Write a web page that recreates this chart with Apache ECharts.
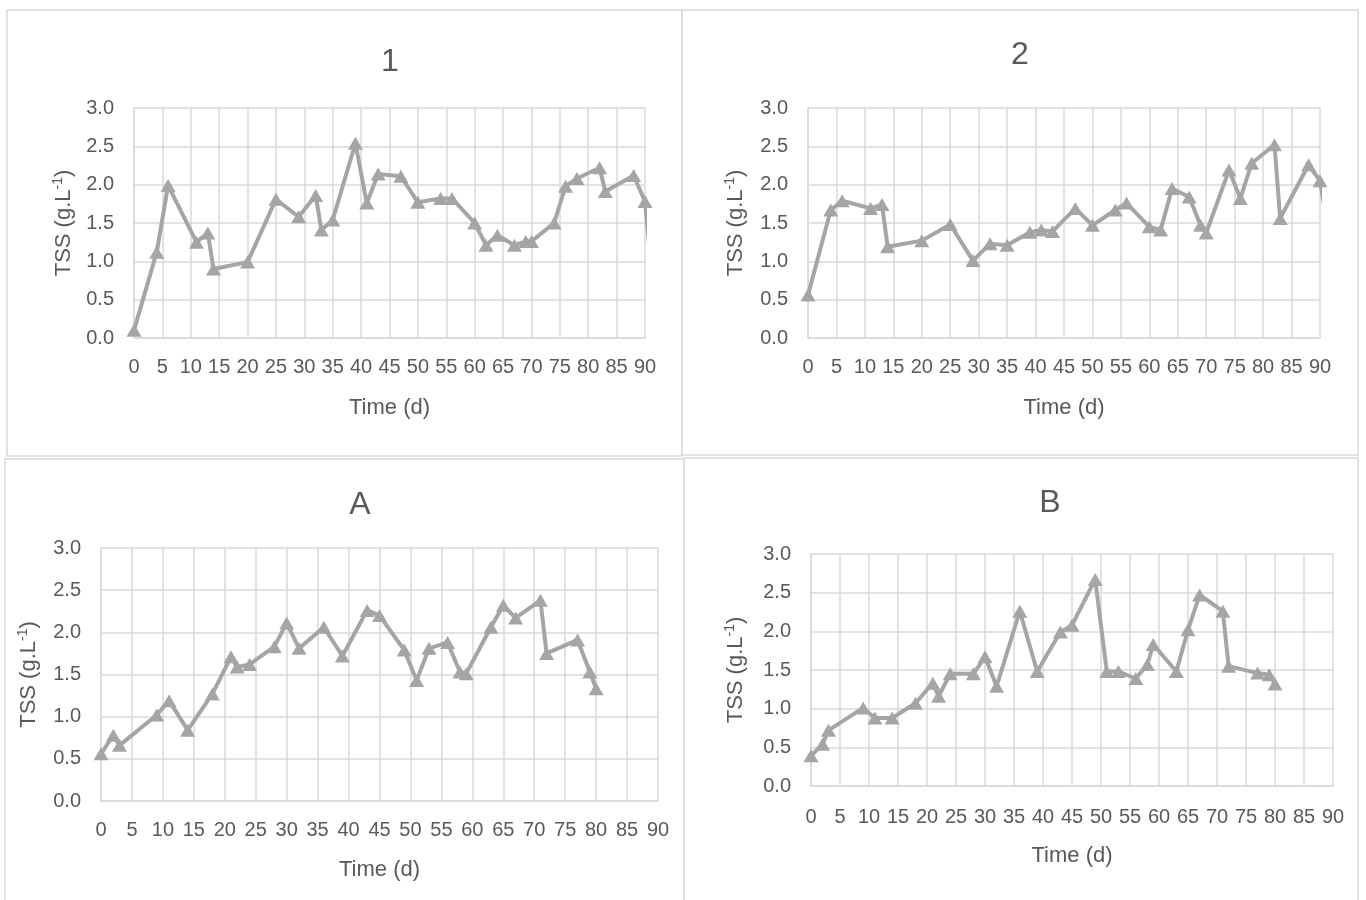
<!DOCTYPE html>
<html>
<head>
<meta charset="utf-8">
<script src="https://cdn.jsdelivr.net/npm/echarts@6/dist/echarts.min.js"></script>
<style>
  html, body { margin: 0; padding: 0; background: #ffffff; }
  #chart { width: 1366px; height: 900px; }
</style>
</head>
<body>
<div id="chart"></div>
<script>
// TSS over time for the four reactors (days, g/L)
const days1 = [0, 4, 6, 11, 13, 14, 20, 25, 29, 32, 33, 35, 39, 41, 43, 47, 50, 54, 56, 60, 62, 64, 67, 69, 70, 74, 76, 78, 82, 83, 88, 90, 91];
const tss1  = [0.10, 1.12, 1.99, 1.25, 1.37, 0.90, 0.99, 1.81, 1.58, 1.86, 1.41, 1.54, 2.54, 1.76, 2.14, 2.11, 1.77, 1.82, 1.82, 1.50, 1.21, 1.34, 1.21, 1.26, 1.26, 1.50, 1.98, 2.08, 2.22, 1.91, 2.12, 1.78, 1.00];

const days2 = [0, 4, 6, 11, 13, 14, 20, 25, 29, 32, 35, 39, 41, 43, 47, 50, 54, 56, 60, 62, 64, 67, 69, 70, 74, 76, 78, 82, 83, 88, 90, 91];
const tss2  = [0.56, 1.67, 1.79, 1.69, 1.74, 1.19, 1.27, 1.48, 1.01, 1.23, 1.21, 1.38, 1.41, 1.39, 1.69, 1.47, 1.67, 1.76, 1.45, 1.41, 1.95, 1.84, 1.47, 1.37, 2.19, 1.82, 2.28, 2.52, 1.56, 2.26, 2.05, 1.60];

const daysA = [0, 2, 3, 9, 11, 14, 18, 21, 22, 24, 28, 30, 32, 36, 39, 43, 45, 49, 51, 53, 56, 58, 59, 63, 65, 67, 71, 72, 77, 79, 80];
const tssA  = [0.56, 0.78, 0.66, 1.02, 1.19, 0.84, 1.27, 1.71, 1.59, 1.62, 1.83, 2.11, 1.81, 2.06, 1.72, 2.26, 2.20, 1.79, 1.43, 1.81, 1.88, 1.53, 1.51, 2.06, 2.32, 2.17, 2.38, 1.75, 1.91, 1.53, 1.33];

const daysB = [0, 2, 3, 9, 11, 14, 18, 21, 22, 24, 28, 30, 32, 36, 39, 43, 45, 49, 51, 53, 56, 58, 59, 63, 65, 67, 71, 72, 77, 79, 80];
const tssB  = [0.39, 0.54, 0.72, 1.01, 0.88, 0.88, 1.07, 1.33, 1.16, 1.45, 1.45, 1.67, 1.29, 2.26, 1.48, 1.99, 2.08, 2.67, 1.48, 1.48, 1.39, 1.57, 1.83, 1.48, 2.02, 2.47, 2.26, 1.55, 1.46, 1.44, 1.32];

const panelTitles = ['1', '2', 'A', 'B'];
const xAxisTitle = 'Time (d)';
const xMin = 0, xMax = 90, xStep = 5;
const yMin = 0, yMax = 3, yStep = 0.5;

const FONT = "'Liberation Sans', Arial, sans-serif";
const TEXT = '#595959';
const GRID_LINE = '#d9d9d9';
const SERIES_GRAY = '#a5a5a5';

// Per-panel layout: plot rect, frame, title centre, label / name gaps
const panels = [
  { days: days1, tss: tss1, grid: { left: 134, top: 108, width: 511, height: 230 },
    frame: [7, 10, 675, 446], title: [390, 62], xLabelMargin: 19, xNameGap: 59, yNameGap: 57 },
  { days: days2, tss: tss2, grid: { left: 808, top: 108, width: 512, height: 230 },
    frame: [682, 10, 676, 445], title: [1020, 55], xLabelMargin: 19, xNameGap: 59, yNameGap: 59 },
  { days: daysA, tss: tssA, grid: { left: 101, top: 548, width: 557, height: 253 },
    frame: [5, 459, 679, 460], title: [360, 505], xLabelMargin: 19, xNameGap: 58, yNameGap: 59 },
  { days: daysB, tss: tssB, grid: { left: 811, top: 554, width: 522, height: 232 },
    frame: [684, 458, 674, 460], title: [1050, 503], xLabelMargin: 21, xNameGap: 59, yNameGap: 62 }
];

const grids = [], xAxes = [], yAxes = [], series = [], graphics = [];

panels.forEach((p, i) => {
  graphics.push({
    type: 'rect', silent: true, z: -10,
    shape: { x: p.frame[0], y: p.frame[1], width: p.frame[2], height: p.frame[3] },
    style: { fill: '#ffffff', stroke: GRID_LINE, lineWidth: 1.5 }
  });
  graphics.push({
    type: 'text', silent: true,
    x: p.title[0], y: p.title[1],
    style: { text: panelTitles[i], fill: TEXT, font: '32px ' + FONT, align: 'center', verticalAlign: 'middle' }
  });

  grids.push(Object.assign({ containLabel: false }, p.grid));

  xAxes.push({
    gridIndex: i, type: 'value', min: xMin, max: xMax, interval: xStep,
    name: xAxisTitle, nameLocation: 'middle', nameGap: p.xNameGap,
    nameTextStyle: { color: TEXT, fontSize: 22, fontFamily: FONT },
    axisLine: { show: true, lineStyle: { color: GRID_LINE, width: 1.5 } },
    axisTick: { show: false },
    axisLabel: { color: TEXT, fontSize: 20, fontFamily: FONT, margin: p.xLabelMargin, hideOverlap: false },
    splitLine: { show: true, lineStyle: { color: GRID_LINE, width: 1.5 } }
  });

  yAxes.push({
    gridIndex: i, type: 'value', min: yMin, max: yMax, interval: yStep,
    name: '{n|TSS (g.L}{s|-1}{n|)}', nameLocation: 'middle', nameGap: p.yNameGap,
    nameTextStyle: {
      color: TEXT, fontFamily: FONT,
      rich: {
        n: { fontSize: 22, color: TEXT, fontFamily: FONT, lineHeight: 26 },
        s: { fontSize: 14, color: TEXT, fontFamily: FONT, verticalAlign: 'top', lineHeight: 26, padding: [0, 0, 11, 0] }
      }
    },
    axisLine: { show: true, lineStyle: { color: GRID_LINE, width: 1.5 } },
    axisTick: { show: false },
    axisLabel: { color: TEXT, fontSize: 20, fontFamily: FONT, margin: 20, formatter: v => v.toFixed(1) },
    splitLine: { show: true, lineStyle: { color: GRID_LINE, width: 1.5 } }
  });

  series.push({
    type: 'line', xAxisIndex: i, yAxisIndex: i,
    data: p.days.map((d, k) => [d, p.tss[k]]),
    symbol: 'triangle', symbolSize: [15, 13], showAllSymbol: true,
    lineStyle: { color: SERIES_GRAY, width: 4 },
    itemStyle: { color: SERIES_GRAY },
    clip: true, z: 5
  });
});

const chart = echarts.init(document.getElementById('chart'), null, { renderer: 'canvas' });
chart.setOption({
  animation: false,
  backgroundColor: '#ffffff',
  textStyle: { fontFamily: FONT },
  graphic: graphics,
  grid: grids,
  xAxis: xAxes,
  yAxis: yAxes,
  series: series
});
</script>
</body>
</html>
